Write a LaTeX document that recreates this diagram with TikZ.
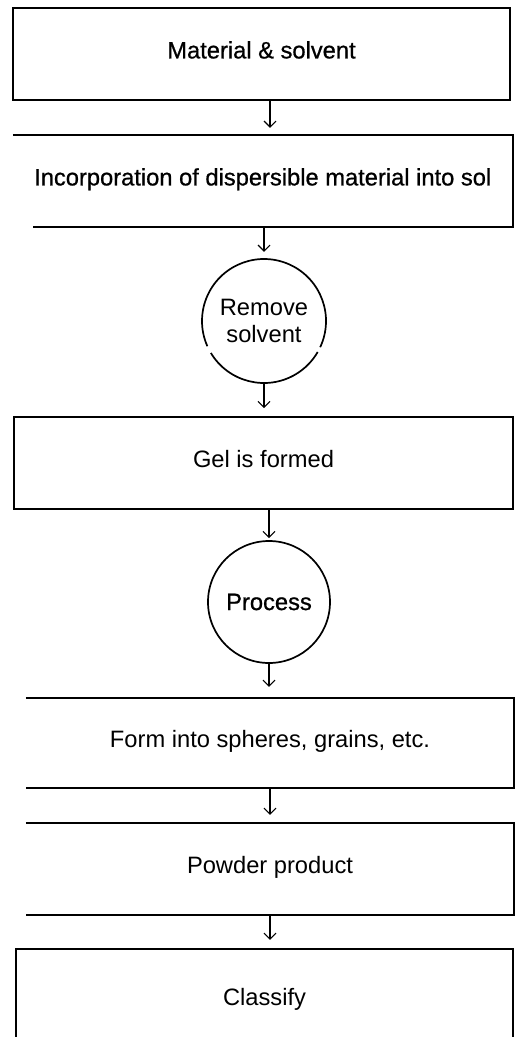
\documentclass[tikz,border=0pt]{standalone}
\usepackage{fontspec}
\setmainfont{Liberation Sans}
\newfontfamily\heavyfont[FakeBold=0.8]{Liberation Sans}
\usetikzlibrary{arrows.meta}
\begin{document}
\begin{tikzpicture}[x=1pt,y=1pt,
  txt/.style={font=\fontsize{23.7}{27}\selectfont},
  heavy/.style={font=\heavyfont\fontsize{23.7}{27}\selectfont},
  boxnode/.style={txt,rectangle,inner sep=0pt,text height=16.8pt,text depth=8pt},
  edge/.style={line width=1.8pt},
  ring/.style={line width=1.7pt},
  arr/.style={line width=1.1pt,-{Straight Barb[length=6pt,width=12pt]}}]
\useasboundingbox[fill=white] (0,0) rectangle (516,-1037);
% boxes
\node[boxnode,heavy,draw,line width=1.8pt,minimum width=497pt,minimum height=92pt] (b1) at (261.5,-54) {Material \& solvent};
\node[boxnode,heavy,minimum width=499.5pt,minimum height=92pt] (b2) at (262.75,-181) {Incorporation of dispersible material into sol};
\node[txt,circle,inner sep=0pt,minimum size=124pt,align=center] (c1) at (264,-321) {Remove\\solvent};
\node[boxnode,draw,line width=1.8pt,minimum width=499pt,minimum height=92pt] (b3) at (263.5,-463) {Gel is formed};
\node[heavy,circle,draw,ring,inner sep=0pt,minimum size=122pt] (c2) at (269,-602) {Process};
\node[boxnode,minimum width=488pt,minimum height=90pt] (b4) at (270,-743) {Form into spheres, grains, etc.};
\node[boxnode,minimum width=488pt,minimum height=92pt] (b5) at (270,-869) {Powder product};
\node[boxnode,minimum width=497pt,minimum height=104pt] (b6) at (264.5,-1001) {Classify};
% partial edges
\draw[edge] (b2.north west) -- (b2.north east) -- (b2.south east) -- ([xshift=20pt]b2.south west);
\draw[edge] (b4.north west) -- (b4.north east) -- (b4.south east) -- (b4.south west);
\draw[edge] (b5.north west) -- (b5.north east) -- (b5.south east) -- (b5.south west);
\draw[edge] (b6.south west) -- (b6.north west) -- (b6.north east) -- (b6.south east);
% broken circle
\draw[ring] ([shift={(-25:62)}]c1.center) arc[start angle=-25,end angle=204,radius=62];
\draw[ring] ([shift={(211:62)}]c1.center) arc[start angle=211,end angle=330,radius=62];
% connectors
\coordinate (ax) at (270,0);
\draw[arr,shorten >=7pt] (b1.south -| ax) -- (b2.north -| ax);
\draw[arr,shorten >=7pt] (b2.south -| c1) -- (c1.north);
\draw[arr,shorten >=8pt] (c1.south) -- (b3.north -| c1);
\draw[arr,shorten >=2pt] (b3.south -| c2) -- (c2.north);
\draw[arr,shorten >=11pt] (c2.south) -- (b4.north -| c2);
\draw[arr,shorten >=8pt] (b4.south -| ax) -- (b5.north -| ax);
\draw[arr,shorten >=9pt] (b5.south -| ax) -- (b6.north -| ax);
\end{tikzpicture}
\end{document}
